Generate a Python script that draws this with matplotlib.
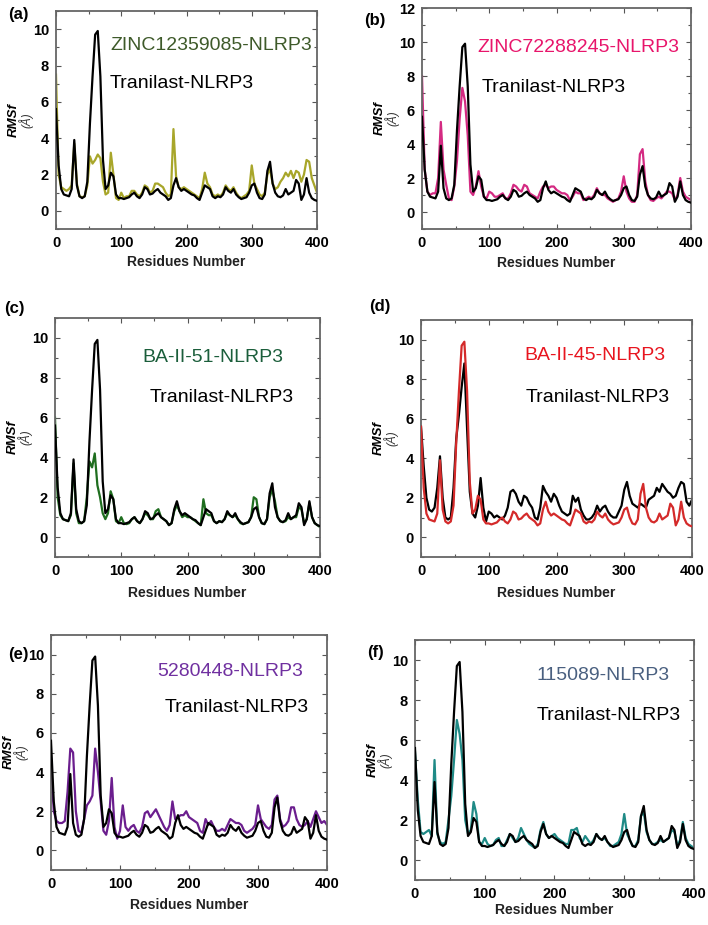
import matplotlib
matplotlib.use("Agg")
import matplotlib.pyplot as plt
from matplotlib.ticker import MultipleLocator
from matplotlib import font_manager as fm

# ---------------- data ----------------
residues = list(range(0, 401, 4))

tranilast = [5.6, 2.5, 1.2, 0.9, 0.85, 0.8, 1.2, 3.9, 1.4, 0.8,
             0.7, 0.8, 1.6, 4.8, 7.4, 9.7, 9.9, 7.4, 2.8, 1.2,
             1.4, 2.1, 1.9, 0.9, 0.7, 0.7, 0.65, 0.7, 0.75, 0.9,
             1.0, 0.8, 0.7, 0.9, 1.3, 1.2, 0.9, 0.95, 1.1, 1.2,
             1.0, 0.9, 0.8, 0.6, 0.7, 1.4, 1.8, 1.3, 1.1, 1.2,
             1.1, 1.0, 0.9, 0.85, 0.7, 0.6, 1.0, 1.4, 1.3, 1.2,
             0.8, 0.7, 0.8, 0.75, 0.9, 1.3, 1.1, 1.0, 1.2, 0.9,
             0.75, 0.65, 0.7, 0.75, 1.0, 1.4, 1.5, 1.0, 0.7, 0.65,
             0.9, 2.2, 2.7, 1.5, 1.0, 0.8, 0.75, 0.85, 1.2, 0.9,
             1.0, 1.1, 1.7, 1.5, 0.6, 0.9, 1.8, 1.0, 0.7, 0.6,
             0.55]

zinc12359085 = [7.5, 2.0, 1.3, 1.2, 1.1, 1.2, 1.4, 3.7, 1.5, 0.8,
                0.75, 0.8, 1.4, 3.0, 2.6, 2.8, 3.1, 2.9, 1.6, 0.9,
                1.0, 3.2, 2.0, 0.7, 0.6, 1.0, 0.7, 0.8, 0.8, 1.1,
                1.1, 0.9, 0.8, 1.0, 1.4, 1.3, 1.0, 1.1, 1.5, 1.5,
                1.4, 1.3, 1.0, 0.8, 0.9, 4.5, 1.9, 1.3, 1.2, 1.3,
                1.2, 1.1, 1.0, 0.9, 0.8, 0.7, 1.2, 2.1, 1.5, 1.3,
                0.9, 0.8, 0.9, 0.8, 1.0, 1.4, 1.2, 1.1, 1.3, 1.0,
                0.8, 0.7, 0.8, 0.9, 1.1, 2.5, 1.5, 1.2, 0.9, 0.8,
                1.0, 2.0, 2.3, 1.5, 1.2, 1.3, 1.6, 1.8, 2.1, 1.9,
                2.2, 1.8, 2.2, 2.1, 1.6, 2.0, 2.8, 2.7, 1.8, 1.4,
                1.0]

zinc72288245 = [8.0, 2.5, 1.2, 1.0, 1.1, 1.1, 2.0, 5.3, 2.5, 1.6,
                0.8, 0.7, 1.5, 3.0, 5.5, 7.3, 6.5, 4.5, 1.2, 1.0,
                1.5, 2.4, 1.5, 0.9, 0.8, 1.2, 1.1, 0.9, 0.9, 1.0,
                1.1, 0.8, 0.8, 1.1, 1.6, 1.5, 1.3, 1.2, 1.6, 1.5,
                1.1, 1.0, 0.9, 0.8, 1.2, 1.5, 1.6, 1.4, 1.5, 1.5,
                1.3, 1.2, 1.1, 1.1, 1.0, 0.7, 0.9, 1.2, 1.1, 1.1,
                0.7, 0.8, 0.9, 0.8, 1.0, 1.4, 1.1, 1.0, 1.0, 0.8,
                0.7, 0.6, 0.7, 0.8, 1.2, 2.1, 1.2, 0.8, 0.6, 0.6,
                1.0, 3.4, 3.7, 1.8, 1.0, 0.7, 0.65, 0.8, 0.9, 0.8,
                1.0, 1.2, 1.2, 1.1, 0.7, 1.0, 2.0, 1.2, 0.9, 0.8,
                0.7]

ba_ii_51 = [6.0, 2.0, 1.1, 0.9, 0.85, 0.8, 1.1, 3.7, 1.2, 0.7,
            0.7, 0.8, 2.0, 3.8, 3.5, 4.2, 2.6, 2.0, 1.2, 0.9,
            1.2, 2.3, 1.9, 0.8, 0.7, 1.0, 0.7, 0.65, 0.7, 0.9,
            1.0, 0.8, 0.7, 0.9, 1.2, 1.1, 0.9, 0.9, 1.3, 1.4,
            1.0, 0.9, 0.8, 0.6, 0.7, 1.3, 1.6, 1.3, 1.0, 1.1,
            1.0, 1.0, 0.9, 0.8, 0.7, 0.6, 1.9, 1.2, 1.1, 1.1,
            0.8, 0.7, 0.8, 0.75, 0.9, 1.2, 1.1, 1.0, 1.1, 0.9,
            0.7, 0.65, 0.7, 0.75, 1.0, 2.0, 1.9, 1.0, 0.7, 0.65,
            0.9, 2.0, 2.4, 1.8, 1.0, 0.8, 0.75, 0.8, 1.0, 0.9,
            1.0, 1.0, 1.5, 1.4, 0.7, 0.9, 1.7, 1.0, 0.7, 0.6,
            0.5]

ba_ii_45_black = [5.6, 3.6, 2.0, 1.4, 1.3, 1.5, 2.5, 4.1, 2.0, 1.0,
                  0.9, 1.0, 2.5, 5.0, 6.2, 7.6, 8.8, 5.5, 2.3, 1.2,
                  1.0, 1.6, 3.0, 1.5, 0.8, 1.3, 1.2, 1.0, 1.1, 1.0,
                  0.9, 1.1, 1.5, 2.3, 2.4, 2.2, 1.8, 1.6, 2.1, 2.0,
                  1.7, 1.5, 1.0, 0.9, 1.5, 2.6, 2.3, 2.1, 1.8, 2.2,
                  2.0, 1.6, 1.3, 1.2, 1.1, 1.2, 2.1, 1.8, 2.0, 1.4,
                  1.1, 0.9, 0.9, 1.0, 1.2, 1.6, 1.3, 1.5, 1.6, 1.3,
                  1.1, 1.0, 1.0, 1.3, 1.6, 2.4, 2.8, 2.1, 1.7, 1.6,
                  1.5, 1.7, 1.6, 1.5, 1.9, 2.0, 2.1, 2.5, 2.3, 2.7,
                  2.5, 2.3, 2.2, 2.0, 2.1, 2.5, 2.8, 2.7, 1.8, 1.6,
                  1.9]

cid5280448 = [4.5, 2.0, 1.5, 1.4, 1.4, 1.5, 3.0, 5.2, 5.0, 2.0,
              1.0, 0.9, 1.6, 2.3, 2.5, 2.8, 5.2, 4.0, 2.5, 1.0,
              0.8, 1.5, 3.7, 1.2, 0.6, 1.0, 2.3, 1.2, 1.0, 1.2,
              1.3, 1.0, 0.9, 1.2, 1.9, 2.0, 1.7, 1.9, 2.1, 1.8,
              1.5, 1.2, 1.0, 1.3, 2.5, 1.6, 1.7, 1.8, 1.8, 2.0,
              1.7, 1.6, 1.5, 1.4, 1.0, 0.9, 1.6, 1.3, 1.5, 1.2,
              1.0, 1.0, 1.1, 1.0, 1.3, 1.6, 1.5, 1.4, 1.4, 1.3,
              1.0, 0.9, 1.0, 1.1, 1.3, 2.3, 1.6, 1.4, 1.2, 1.1,
              1.3, 2.6, 2.8, 1.6, 1.2, 1.3, 1.5, 2.2, 2.2, 1.6,
              1.3, 1.2, 1.3, 1.5, 1.2, 1.6, 2.0, 1.7, 1.4, 1.5,
              1.3]

cid115089 = [5.4, 3.0, 1.4, 1.3, 1.4, 1.5, 1.2, 5.0, 1.3, 0.9,
             0.8, 0.9, 2.0, 3.2, 5.0, 7.0, 6.3, 5.0, 2.0, 1.3,
             1.5, 2.9, 2.3, 0.9, 0.8, 1.1, 0.8, 0.7, 0.75, 1.0,
             1.1, 0.7, 0.7, 1.0, 1.3, 1.1, 0.9, 1.1, 1.6, 1.3,
             1.0, 0.8, 0.7, 0.6, 0.8, 1.5, 1.9, 1.3, 1.1, 1.2,
             1.3, 1.1, 1.0, 0.9, 0.8, 0.8, 1.5, 1.5, 1.6, 1.1,
             0.9, 1.2, 1.0, 0.8, 1.0, 1.3, 1.1, 1.0, 1.1, 0.9,
             0.7, 0.7, 0.8, 0.9, 1.3, 2.3, 1.3, 1.0, 0.7, 0.7,
             1.0, 2.2, 2.4, 1.4, 1.0, 0.8, 0.8, 0.9, 1.0, 0.9,
             1.0, 1.1, 1.5, 1.4, 0.7, 1.0, 1.9, 1.1, 0.8, 0.7,
             0.6]

panel_tags = ["(a)", "(b)", "(c)", "(d)", "(e)", "(f)"]
ligand_names = ["ZINC12359085-NLRP3", "ZINC72288245-NLRP3", "BA-II-51-NLRP3",
                "BA-II-45-NLRP3", "5280448-NLRP3", "115089-NLRP3"]
reference_name = "Tranilast-NLRP3"
x_label = "Residues Number"

# ---------------- styling ----------------
W, H = 708, 925
fig = plt.figure(figsize=(W / 100, H / 100), dpi=100)

avail = {f.name for f in fm.fontManager.ttflist}
tick_font = "Liberation Sans" if "Liberation Sans" in avail else "DejaVu Sans"
label_font = tick_font

def px_axes(l, t, r, b):
    return fig.add_axes([l / W, 1 - b / H, (r - l) / W, (b - t) / H])

panels = [
    dict(box=(56, 11, 317, 229), ytop=11, lig=zinc12359085, blk=tranilast,
         lc="#A8A62A", tc="#3E5A2A", t1=(110, 45), t2=(110, 84), tag=(8, 15), xl=262),
    dict(box=(422, 8, 691, 229), ytop=12, lig=zinc72288245, blk=tranilast,
         lc="#D42A82", tc="#E8156B", t1=(477, 47), t2=(482, 88), tag=(364, 20), xl=263),
    dict(box=(55, 318, 320, 557), ytop=11, lig=ba_ii_51, blk=tranilast,
         lc="#1F6E1F", tc="#1B5E3B", t1=(142, 357), t2=(150, 397), tag=(4, 309), xl=593),
    dict(box=(421, 320, 692, 557), ytop=11, lig=tranilast, blk=ba_ii_45_black,
         lc="#D42A2A", tc="#E8151F", t1=(524, 355), t2=(526, 397), tag=(369, 307), xl=593),
    dict(box=(51, 635, 327, 870), ytop=11, lig=cid5280448, blk=tranilast,
         lc="#6B1E8E", tc="#7030A0", t1=(157, 672), t2=(165, 708), tag=(8, 655), xl=905),
    dict(box=(415, 640, 694, 880), ytop=11, lig=cid115089, blk=tranilast,
         lc="#1F8A86", tc="#4A6080", t1=(536, 675), t2=(537, 715), tag=(367, 652), xl=910),
]

for i, p in enumerate(panels):
    l, t, r, b = p["box"]
    ax = px_axes(l, t, r, b)
    if i == 3:
        ax.plot(residues, p["blk"], color="black", lw=1.6, zorder=2)
        ax.plot(residues, p["lig"], color=p["lc"], lw=1.6, zorder=3)
    else:
        ax.plot(residues, p["lig"], color=p["lc"], lw=1.6, zorder=2)
        ax.plot(residues, p["blk"], color="black", lw=1.6, zorder=3)
    ax.set_xlim(0, 400)
    ax.set_ylim(-1, p["ytop"])
    ax.xaxis.set_major_locator(MultipleLocator(100))
    ax.xaxis.set_minor_locator(MultipleLocator(50))
    ax.yaxis.set_major_locator(MultipleLocator(2))
    ax.yaxis.set_minor_locator(MultipleLocator(1))
    ax.tick_params(which="both", direction="in", top=True, right=True,
                   color="#555555", width=0.8)
    ax.tick_params(which="major", length=3.5, labelsize=10.5, pad=5)
    ax.tick_params(which="minor", length=2)
    for lab in ax.get_xticklabels() + ax.get_yticklabels():
        lab.set_fontweight("bold")
        lab.set_family(tick_font)
    for s in ax.spines.values():
        s.set_color("#666666")
        s.set_linewidth(1.3)

    ymid = (t + b) / 2
    fig.text((l - 42) / W, 1 - ymid / H, "RMSf", rotation=90, ha="center", va="center",
             fontsize=9.5, fontweight="bold", fontstyle="italic", family=tick_font)
    fig.text((l - 30) / W, 1 - ymid / H, "(Å)", rotation=90, ha="center", va="center",
             fontsize=8.5, fontstyle="italic", family=tick_font, color="#333333")
    fig.text(((l + r) / 2) / W, 1 - p["xl"] / H, x_label, ha="center", va="center",
             fontsize=10, fontweight="bold", family=tick_font, color="#222222")
    fig.text(p["t1"][0] / W, 1 - p["t1"][1] / H, ligand_names[i], ha="left", va="center",
             fontsize=14, color=p["tc"], family=label_font)
    fig.text(p["t2"][0] / W, 1 - p["t2"][1] / H, reference_name, ha="left", va="center",
             fontsize=14, color="black", family=label_font)
    fig.text(p["tag"][0] / W, 1 - p["tag"][1] / H, panel_tags[i], ha="left", va="center",
             fontsize=12, fontweight="bold", family=tick_font)

fig.savefig("out.png", dpi=100)
